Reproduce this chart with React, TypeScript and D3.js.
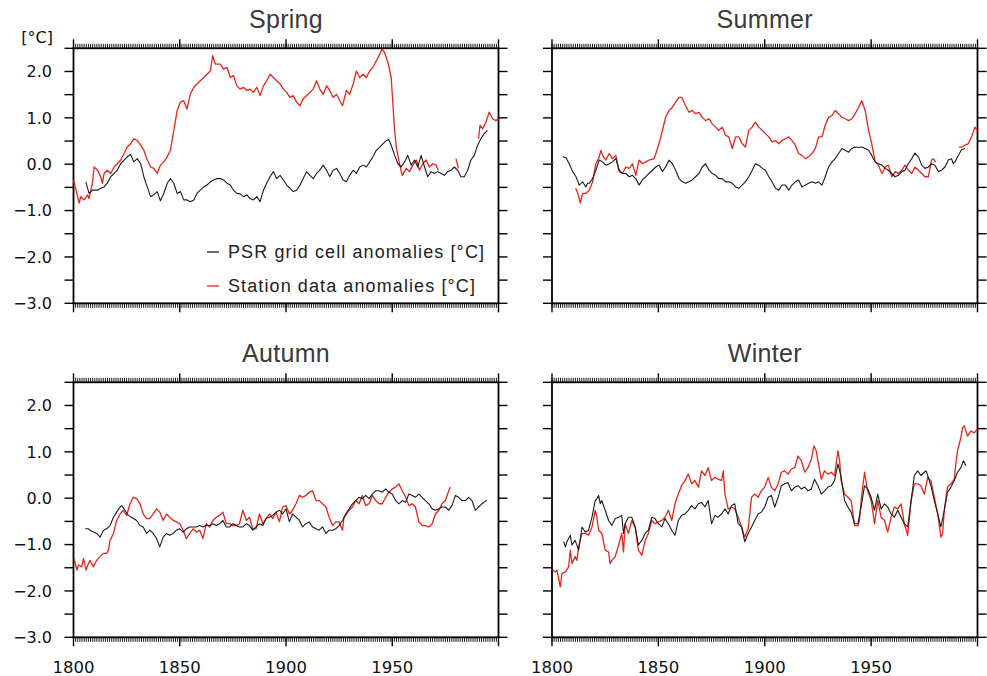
import * as d3 from "d3";

type Pt = [number, number | null];

// Spring
const springPSR: Pt[] = [
  [1805.8, -0.38], [1807.3, -0.63], [1808.9, -0.56], [1811.3, -0.56], [1812.8, -0.52], [1814.4, -0.49],
  [1815.9, -0.41], [1817.5, -0.27], [1819.1, -0.2], [1820.6, -0.13], [1822.2, 0.01], [1823.8, 0.09],
  [1825.3, 0.16], [1826.9, 0.21], [1828.4, 0.05], [1830, 0.12], [1831.6, 0.01], [1833.1, -0.27],
  [1834.7, -0.49], [1836.3, -0.7], [1837.8, -0.66], [1839.4, -0.59], [1840.9, -0.79], [1842.5, -0.63],
  [1844.1, -0.41], [1845.6, -0.31], [1847.2, -0.41], [1848.8, -0.63], [1850.3, -0.59], [1851.9, -0.77],
  [1853.4, -0.77], [1855, -0.81], [1856.6, -0.77], [1858.1, -0.63], [1859.7, -0.56], [1861.3, -0.49],
  [1862.8, -0.45], [1864.4, -0.38], [1865.9, -0.34], [1867.5, -0.31], [1869.1, -0.31], [1870.6, -0.34],
  [1872.2, -0.41], [1873.8, -0.45], [1875.3, -0.56], [1876.9, -0.63], [1878.4, -0.64], [1880, -0.7],
  [1881.6, -0.66], [1883.1, -0.74], [1884.7, -0.77], [1886.3, -0.7], [1887.8, -0.81], [1889.4, -0.56],
  [1890.9, -0.41], [1892.5, -0.27], [1894.1, -0.16], [1895.6, -0.31], [1897.2, -0.24], [1898.8, -0.34],
  [1900.3, -0.45], [1901.9, -0.52], [1903.4, -0.59], [1905, -0.56], [1906.6, -0.45], [1908.1, -0.31],
  [1909.7, -0.16], [1911.3, -0.24], [1912.8, -0.31], [1914.4, -0.2], [1915.9, -0.13], [1917.5, -0.02],
  [1919.1, -0.13], [1920.6, -0.27], [1922.2, -0.13], [1923.8, -0.09], [1925.3, -0.2], [1926.9, -0.34],
  [1928.4, -0.38], [1930, -0.24], [1931.6, -0.13], [1933.1, -0.2], [1934.7, -0.06], [1936.3, -0.02],
  [1937.8, -0.06], [1939.4, 0.05], [1940.9, 0.16], [1942.5, 0.3], [1944.1, 0.37], [1945.6, 0.44],
  [1947.2, 0.51], [1948.4, 0.53], [1949.5, 0.41], [1951.1, 0.19], [1952.7, 0.01], [1954.2, -0.06],
  [1955.8, 0.05], [1957.3, 0.19], [1958.9, -0.02], [1960.5, 0.09], [1962, -0.06], [1963.6, 0.19],
  [1965.2, -0.06], [1966.7, -0.27], [1968.3, -0.16], [1969.8, -0.2], [1971.4, -0.16], [1973, -0.2],
  [1974.5, -0.24], [1976.1, -0.16], [1977.7, -0.13], [1979.2, -0.06], [1980.8, -0.13], [1982.3, -0.27],
  [1983.9, -0.27], [1985.5, -0.13], [1987, 0.09], [1988.6, 0.19], [1990.2, 0.41], [1991.7, 0.55],
  [1993.3, 0.66], [1994.8, 0.73],
];
const springStation: Pt[] = [
  [1800, -0.34], [1802.7, -0.84], [1803.4, -0.7], [1805, -0.77], [1806.6, -0.66], [1807.3, -0.74],
  [1808.9, -0.41], [1809.7, -0.06], [1811.3, -0.13], [1812.8, -0.27], [1813.6, -0.41], [1814.4, -0.2],
  [1815.9, -0.13], [1817.5, -0.2], [1819.1, -0.06], [1820.6, 0.01], [1822.2, 0.09], [1823.8, 0.23],
  [1825.3, 0.37], [1826.9, 0.44], [1828.4, 0.55], [1830, 0.51], [1831.6, 0.41], [1833.1, 0.3],
  [1834.7, 0.09], [1836.3, -0.06], [1837.8, -0.09], [1839.4, -0.2], [1840.9, -0.02], [1842.5, 0.05],
  [1844.1, 0.16], [1845.6, 0.3], [1847.2, 0.73], [1848.8, 1.16], [1850.3, 1.34], [1851.9, 1.37],
  [1853.4, 1.19], [1855, 1.51], [1856.6, 1.66], [1858.1, 1.73], [1859.7, 1.8], [1861.3, 1.87],
  [1862.8, 1.94], [1864.4, 2.01], [1865.5, 2.34], [1866.7, 2.16], [1869.1, 2.16], [1870.6, 2.05],
  [1872.2, 2.09], [1873.8, 1.87], [1875.3, 1.91], [1876.9, 1.69], [1878.4, 1.62], [1880, 1.66],
  [1881.6, 1.59], [1883.1, 1.62], [1884.7, 1.55], [1886.3, 1.66], [1887.8, 1.48], [1889.4, 1.69],
  [1890.9, 1.8], [1892.5, 1.94], [1894.1, 1.87], [1895.6, 1.8], [1897.2, 1.73], [1898.8, 1.62],
  [1900.3, 1.55], [1901.9, 1.44], [1903.4, 1.48], [1905, 1.34], [1906.6, 1.26], [1908.1, 1.41],
  [1909.7, 1.48], [1911.3, 1.55], [1912.8, 1.62], [1914.4, 1.8], [1915.9, 1.62], [1917.5, 1.51],
  [1919.1, 1.69], [1920.6, 1.59], [1922.2, 1.44], [1923.8, 1.51], [1925.3, 1.37], [1926.6, 1.26],
  [1928.4, 1.59], [1930, 1.51], [1931.6, 1.73], [1933.1, 2.01], [1934.7, 1.87], [1936.3, 1.94],
  [1937.8, 1.87], [1939.4, 2.01], [1940.9, 2.09], [1942.5, 2.23], [1944.1, 2.37], [1945.2, 2.48],
  [1946.4, 2.41], [1948, 2.19], [1949.5, 1.87], [1950.3, 1.3], [1951.1, 0.73], [1951.9, 0.37],
  [1953.4, 0.01], [1954.7, -0.24], [1956.6, -0.09], [1958.1, -0.16], [1959.7, -0.02], [1961.3, 0.09],
  [1962.8, -0.13], [1964.4, 0.01], [1965.9, 0.09], [1967.5, -0.06], [1969.1, 0.01], [1970.6, -0.02],
  [1971.7, -0.13], [1975, null], [1980, 0.12], [1981.1, -0.09], [1985, null], [1990.6, 0.55],
  [1991.3, 0.84], [1992.5, 0.76], [1994.1, 0.91], [1995.6, 1.12], [1997.2, 0.98], [1998.8, 0.94],
  [2000, 0.98],
];

// Summer
const summerPSR: Pt[] = [
  [1805, 0.16], [1806.6, 0.14], [1808.1, 0.01], [1809.7, -0.16], [1811.3, -0.27], [1812.8, -0.45],
  [1814.4, -0.38], [1815.9, -0.49], [1816.7, -0.41], [1817.5, -0.41], [1819.1, -0.31], [1820.6, -0.13],
  [1822.2, 0.09], [1823.8, 0.05], [1825.3, -0.02], [1826.9, 0.01], [1828.4, 0.05], [1830, 0.12],
  [1831.6, -0.13], [1833.1, -0.2], [1834.7, -0.2], [1836.3, -0.27], [1837.8, -0.24], [1839.4, -0.31],
  [1840.9, -0.45], [1842.5, -0.34], [1844.1, -0.27], [1845.6, -0.2], [1847.2, -0.13], [1848.8, -0.06],
  [1850.3, -0.02], [1851.9, -0.16], [1853.4, -0.06], [1855, 0.09], [1856.6, 0.01], [1858.1, -0.13],
  [1859.7, -0.31], [1861.3, -0.38], [1862.8, -0.41], [1864.4, -0.38], [1865.9, -0.34], [1867.5, -0.27],
  [1869.1, -0.2], [1870.6, -0.06], [1872.2, 0.01], [1873.8, -0.13], [1875.3, -0.2], [1876.9, -0.24],
  [1878.4, -0.31], [1880, -0.31], [1881.6, -0.38], [1883.1, -0.38], [1884.7, -0.41], [1886.3, -0.49],
  [1887.8, -0.52], [1889.4, -0.45], [1890.9, -0.38], [1892.5, -0.27], [1894.1, -0.13], [1895.6, 0.01],
  [1897.2, -0.02], [1898.8, -0.09], [1900.3, -0.13], [1901.9, -0.27], [1903.4, -0.38], [1905, -0.52],
  [1906.6, -0.56], [1908.1, -0.45], [1909.7, -0.45], [1911.3, -0.56], [1912.8, -0.45], [1914.4, -0.38],
  [1915.9, -0.34], [1917.5, -0.49], [1919.1, -0.45], [1920.6, -0.41], [1922.2, -0.38], [1923.8, -0.41],
  [1925.3, -0.38], [1926.9, -0.45], [1928.4, -0.27], [1930, -0.06], [1931.6, 0.05], [1933.1, 0.12],
  [1934.7, 0.23], [1936.3, 0.34], [1937.8, 0.3], [1939.4, 0.26], [1940.9, 0.34], [1942.5, 0.37],
  [1944.1, 0.36], [1945.6, 0.37], [1947.2, 0.34], [1948.8, 0.3], [1950.3, 0.19], [1951.9, 0.05],
  [1953.4, 0.01], [1955.1, -0.02], [1956.6, -0.09], [1958.1, -0.13], [1959.7, -0.2], [1961.3, -0.27],
  [1962.8, -0.24], [1964.4, -0.16], [1965.9, -0.13], [1967.5, 0.01], [1969.1, 0.12], [1970.6, 0.24],
  [1972.2, 0.16], [1973.8, -0.02], [1975.3, -0.09], [1976.9, -0.06], [1978.4, 0.01], [1980, -0.02],
  [1981.6, -0.16], [1983.1, -0.13], [1984.7, -0.06], [1986.3, 0.09], [1987.8, 0.12], [1988.6, 0.01],
  [1989.4, 0.05], [1991, 0.19], [1992.5, 0.31], [1994.1, 0.34],
];
const summerStation: Pt[] = [
  [1800, 0.03], [1800.8, 0.03], [1805, null], [1811.1, -0.52], [1812.2, -0.63], [1813.3, -0.84],
  [1814.4, -0.63], [1815.9, -0.63], [1817.5, -0.56], [1819.1, -0.38], [1820.6, 0.01], [1822.2, 0.16],
  [1823, 0.3], [1823.8, 0.19], [1825.3, 0.09], [1826.9, 0.23], [1828.4, 0.12], [1830, 0.19],
  [1831.6, -0.16], [1833.1, -0.2], [1834.7, -0.06], [1836.3, -0.09], [1837.8, 0.01], [1839.4, -0.24],
  [1840.9, 0.09], [1842.5, 0.01], [1844.1, 0.05], [1845.6, 0.09], [1848, 0.12], [1848.8, 0.23],
  [1850.3, 0.44], [1851.9, 0.73], [1853.4, 1.01], [1855, 1.16], [1856.6, 1.23], [1858.1, 1.34],
  [1859.7, 1.44], [1861, 1.44], [1862.8, 1.26], [1864.4, 1.12], [1865.9, 1.16], [1867.5, 1.09],
  [1869.1, 1.12], [1870.6, 1.01], [1872.2, 0.94], [1873.8, 0.98], [1875.3, 0.87], [1876.9, 0.8],
  [1878.4, 0.73], [1880, 0.8], [1881.6, 0.62], [1883.1, 0.59], [1884.7, 0.34], [1886.3, 0.59],
  [1887.8, 0.59], [1889.4, 0.44], [1890.9, 0.37], [1892.5, 0.73], [1894.1, 0.8], [1895.6, 0.91],
  [1897.2, 0.8], [1898.8, 0.73], [1900.3, 0.66], [1901.9, 0.59], [1903.4, 0.48], [1905, 0.51],
  [1906.6, 0.44], [1908.1, 0.51], [1909.7, 0.55], [1911.3, 0.59], [1912.8, 0.51], [1914.4, 0.41],
  [1915.9, 0.23], [1917.5, 0.19], [1919.1, 0.12], [1920.6, 0.16], [1922.2, 0.23], [1923.8, 0.34],
  [1925.3, 0.59], [1926.9, 0.59], [1928.4, 0.84], [1930, 1.01], [1931.6, 1.05], [1933.1, 1.16],
  [1934.7, 1.09], [1936.3, 1.01], [1937.8, 0.98], [1939.4, 0.94], [1940.9, 0.98], [1942.5, 1.09],
  [1944.1, 1.23], [1945.6, 1.37], [1947.2, 1.16], [1948.8, 0.73], [1950.3, 0.44], [1951.9, 0.05],
  [1953.4, -0.02], [1955.1, -0.2], [1956.6, -0.06], [1958.1, -0.02], [1959.7, -0.27], [1961.3, -0.16],
  [1962.8, -0.2], [1964.4, -0.13], [1965.9, -0.02], [1967.5, -0.13], [1969.1, -0.2], [1970.6, -0.06],
  [1972.2, -0.13], [1973.8, -0.2], [1975.3, -0.27], [1976.9, -0.27], [1978.4, 0.09], [1979.2, 0.12],
  [1980.3, 0.05], [1985, null], [1991.3, 0.37], [1992.5, 0.37], [1994.1, 0.41], [1995.6, 0.44],
  [1997.2, 0.59], [1998.8, 0.8], [2000, 0.72],
];

// Autumn
const autumnPSR: Pt[] = [
  [1805.5, -0.66], [1807, -0.66], [1807.8, -0.69], [1809.4, -0.73], [1810.9, -0.76], [1812.5, -0.84],
  [1814.1, -0.69], [1815.6, -0.66], [1817.2, -0.59], [1818.8, -0.41], [1820.3, -0.3], [1821.9, -0.19],
  [1822.7, -0.16], [1824.2, -0.26], [1825.8, -0.37], [1827.3, -0.41], [1829.7, -0.48], [1831.3, -0.59],
  [1832.8, -0.62], [1834.4, -0.76], [1835.9, -0.69], [1837.5, -0.76], [1839.1, -0.87], [1840.6, -1.05],
  [1842.2, -0.84], [1843.8, -0.76], [1845.3, -0.8], [1846.9, -0.76], [1848.4, -0.69], [1850, -0.66],
  [1851.6, -0.73], [1853.1, -0.66], [1854.7, -0.62], [1856.3, -0.62], [1857.8, -0.62], [1859.4, -0.59],
  [1860.9, -0.62], [1862.5, -0.59], [1864.1, -0.59], [1865.6, -0.55], [1867.2, -0.59], [1868.8, -0.55],
  [1870.3, -0.48], [1871.9, -0.62], [1873.4, -0.62], [1875, -0.55], [1876.6, -0.59], [1878.1, -0.62],
  [1879.7, -0.62], [1881.3, -0.55], [1882.8, -0.59], [1884.4, -0.69], [1885.9, -0.62], [1887.5, -0.55],
  [1889.1, -0.59], [1890.6, -0.44], [1892.2, -0.41], [1893.8, -0.37], [1895.3, -0.3], [1896.9, -0.26],
  [1898.4, -0.34], [1900, -0.23], [1901.6, -0.51], [1903.1, -0.34], [1904.7, -0.41], [1906.3, -0.48],
  [1907.8, -0.62], [1909.4, -0.55], [1910.9, -0.51], [1912.5, -0.62], [1914.1, -0.66], [1915.6, -0.69],
  [1917.2, -0.62], [1918.8, -0.76], [1920.3, -0.69], [1921.9, -0.69], [1923.4, -0.66], [1925, -0.59],
  [1926.6, -0.48], [1928.1, -0.34], [1929.7, -0.23], [1931.3, -0.12], [1932.8, -0.05], [1934.4, 0.02],
  [1935.9, -0.01], [1937.5, 0.06], [1939.1, -0.01], [1940.6, 0.09], [1942.2, 0.16], [1943.8, 0.16],
  [1945.3, 0.13], [1946.9, 0.2], [1948.4, 0.13], [1950, 0.09], [1951.6, -0.05], [1953.1, -0.12],
  [1954.7, -0.05], [1956.3, -0.09], [1957.8, 0.09], [1959.4, 0.06], [1960.9, 0.02], [1962.5, 0.09],
  [1964.1, 0.02], [1965.6, -0.05], [1967.2, -0.12], [1968.8, -0.23], [1970.3, -0.26], [1971.9, -0.23],
  [1973.4, -0.19], [1975, -0.19], [1976.6, -0.26], [1978.1, -0.16], [1979.7, 0.06], [1981.3, 0.02],
  [1982.8, -0.05], [1984.4, -0.05], [1985.9, 0.02], [1987.5, -0.05], [1989.1, -0.26], [1990.6, -0.19],
  [1992.2, -0.12], [1994.5, -0.04],
];
const autumnStation: Pt[] = [
  [1800.3, -1.3], [1801.6, -1.55], [1802.3, -1.44], [1803.9, -1.48], [1804.7, -1.3], [1805.9, -1.55],
  [1807, -1.41], [1807.8, -1.34], [1809.4, -1.48], [1810.9, -1.34], [1812.5, -1.26], [1814.1, -1.19],
  [1815.6, -1.19], [1816.4, -1.12], [1817.2, -0.91], [1818.8, -0.76], [1820.3, -0.48], [1821.9, -0.34],
  [1823.4, -0.26], [1825, -0.37], [1826.6, -0.12], [1828.1, 0.02], [1829.7, -0.01], [1831.3, -0.12],
  [1832.8, -0.34], [1834.4, -0.44], [1835.9, -0.44], [1837.5, -0.34], [1839.1, -0.23], [1840.6, -0.3],
  [1842.2, -0.48], [1843.8, -0.34], [1845.3, -0.41], [1846.9, -0.48], [1848.4, -0.51], [1850, -0.55],
  [1851.6, -0.69], [1853.1, -0.87], [1854.7, -0.76], [1856.3, -0.66], [1857.8, -0.73], [1859.4, -0.69],
  [1860.9, -0.87], [1862.5, -0.55], [1864.1, -0.62], [1865.6, -0.48], [1867.2, -0.41], [1868.8, -0.37],
  [1870.3, -0.3], [1871.9, -0.55], [1873.4, -0.55], [1875, -0.59], [1876.6, -0.59], [1878.1, -0.55],
  [1879.7, -0.26], [1881.3, -0.48], [1882.8, -0.41], [1884.4, -0.66], [1885.9, -0.66], [1887.5, -0.34],
  [1889.1, -0.55], [1890.6, -0.44], [1892.2, -0.34], [1893.8, -0.44], [1895.3, -0.3], [1896.9, -0.51],
  [1898.4, -0.19], [1900, -0.16], [1901.6, -0.34], [1903.1, -0.26], [1904.7, -0.12], [1906.3, 0.06],
  [1907.8, 0.02], [1909.4, 0.06], [1910.9, 0.13], [1912.5, 0.16], [1914.1, -0.05], [1915.6, -0.05],
  [1917.2, -0.12], [1918.8, -0.19], [1920.3, -0.41], [1921.9, -0.59], [1923.4, -0.51], [1925, -0.51],
  [1926.6, -0.69], [1927.3, -0.41], [1928.1, -0.37], [1929.7, -0.26], [1931.3, -0.19], [1932.8, -0.05],
  [1934.4, -0.12], [1935.9, 0.06], [1937.5, -0.16], [1939.1, -0.12], [1940.6, 0.06], [1942.2, -0.05],
  [1943.8, -0.12], [1945.3, -0.12], [1946.9, 0.02], [1948.4, 0.13], [1950, 0.2], [1951.6, 0.24],
  [1953.1, 0.31], [1954.7, 0.16], [1956.3, 0.02], [1957.8, -0.16], [1959.4, -0.12], [1960.9, -0.19],
  [1962.5, -0.51], [1964.1, -0.59], [1965.6, -0.59], [1967.2, -0.62], [1968.8, -0.55], [1970.3, -0.34],
  [1971.9, -0.26], [1973.4, -0.12], [1975, -0.05], [1976.6, 0.16], [1977.3, 0.24],
];

// Winter
const winterPSR: Pt[] = [
  [1805.5, -0.94], [1806.3, -1.05], [1807, -0.94], [1808.6, -0.8], [1809.4, -1.01], [1810.9, -0.91],
  [1812.5, -1.12], [1814.1, -0.62], [1815.6, -0.73], [1817.2, -0.69], [1818.8, -0.41], [1820.3, -0.05],
  [1821.1, -0.01], [1821.9, 0.06], [1822.7, -0.12], [1823.4, -0.05], [1825, -0.26], [1826.6, -0.48],
  [1828.1, -0.59], [1829.7, -0.44], [1831.3, -0.41], [1832.8, -0.37], [1833.6, -0.76], [1834.4, -0.55],
  [1835.9, -0.41], [1837.5, -0.41], [1839.1, -0.62], [1840.6, -1.01], [1842.2, -0.91], [1843.8, -0.76],
  [1845.3, -0.69], [1846.9, -0.41], [1848.4, -0.44], [1850, -0.55], [1851.6, -0.62], [1853.1, -0.44],
  [1854.7, -0.55], [1856.3, -0.69], [1857.8, -0.8], [1859.4, -0.48], [1860.9, -0.37], [1862.5, -0.34],
  [1864.1, -0.26], [1865.6, -0.16], [1867.2, -0.23], [1868.8, -0.12], [1870.3, -0.09], [1871.9, -0.19],
  [1873.4, -0.05], [1875, -0.55], [1876.6, -0.37], [1878.1, -0.41], [1879.7, -0.34], [1881.3, -0.23],
  [1882.8, -0.34], [1884.4, -0.16], [1885.9, -0.12], [1887.5, -0.55], [1889.1, -0.62], [1890.6, -0.94],
  [1892.2, -0.76], [1893.8, -0.62], [1895.3, -0.48], [1896.9, -0.34], [1898.4, -0.3], [1900, -0.19],
  [1901.6, 0.02], [1903.1, 0.06], [1904.7, -0.19], [1906.3, 0.02], [1907.8, 0.27], [1909.4, 0.31],
  [1910.9, 0.34], [1912.5, 0.16], [1914.1, 0.24], [1915.6, 0.27], [1917.2, 0.2], [1918.8, 0.24],
  [1920.3, 0.16], [1921.9, 0.2], [1923.4, 0.41], [1925, 0.27], [1926.6, 0.09], [1928.1, 0.16],
  [1929.7, 0.24], [1931.3, 0.27], [1932.8, 0.38], [1934.4, 0.74], [1935.2, 0.59], [1935.9, 0.45],
  [1937.5, -0.05], [1939.1, -0.19], [1940.6, -0.3], [1942.2, -0.55], [1943.8, -0.55], [1945.3, -0.19],
  [1946.9, 0.27], [1948.4, 0.2], [1950, 0.02], [1951.6, -0.26], [1953.1, 0.09], [1954.7, -0.23],
  [1956.3, -0.12], [1957.8, -0.19], [1959.4, -0.34], [1960.9, -0.41], [1962.5, -0.26], [1964.1, -0.41],
  [1965.6, -0.55], [1967.2, -0.62], [1968.8, -0.05], [1970.3, 0.49], [1971.9, 0.59], [1973.4, 0.49],
  [1975, 0.56], [1975.8, 0.59], [1976.6, 0.49], [1978.1, 0.27], [1979.7, -0.05], [1981.3, -0.34],
  [1982.8, -0.62], [1984.4, -0.26], [1985.9, 0.13], [1987.5, 0.24], [1989.1, 0.38], [1990.6, 0.56],
  [1992.2, 0.66], [1993.4, 0.81], [1994.5, 0.7],
];
const winterStation: Pt[] = [
  [1800.3, -1.55], [1801.6, -1.59], [1802.3, -1.55], [1803.1, -1.73], [1803.9, -1.91], [1804.7, -1.62],
  [1806.3, -1.59], [1807.8, -1.48], [1808.6, -1.12], [1809.4, -1.41], [1810.9, -1.26], [1811.7, -1.34],
  [1812.5, -1.05], [1814.1, -0.76], [1815.6, -0.76], [1817.2, -0.8], [1818.8, -0.62], [1820.3, -0.26],
  [1821.1, -0.41], [1821.9, -0.69], [1823.4, -0.76], [1825, -1.12], [1826.6, -1.16], [1827.3, -1.41],
  [1828.1, -1.34], [1829.7, -1.26], [1831.3, -1.01], [1832.8, -0.76], [1833.6, -1.16], [1834.4, -0.55],
  [1835.9, -0.76], [1837.5, -0.48], [1839.1, -0.62], [1840.6, -1.12], [1842.2, -1.23], [1843.8, -0.91],
  [1845.3, -0.76], [1846.9, -0.48], [1848.4, -0.55], [1850, -0.51], [1851.6, -0.48], [1853.1, -0.41],
  [1854.7, -0.26], [1856.3, -0.48], [1857.8, -0.12], [1859.4, 0.09], [1860.9, 0.27], [1862.5, 0.38],
  [1864.1, 0.52], [1865.6, 0.31], [1867.2, 0.38], [1868.8, 0.24], [1870.3, 0.59], [1871.9, 0.49],
  [1873.4, 0.66], [1875, 0.38], [1876.6, 0.45], [1878.1, 0.41], [1879.7, 0.38], [1880.5, 0.59],
  [1881.3, 0.09], [1882.8, -0.23], [1884.4, -0.19], [1885.9, -0.23], [1887.5, -0.41], [1889.1, -0.62],
  [1890.6, -0.84], [1892.2, -0.66], [1893.8, 0.02], [1895.3, 0.09], [1896.9, 0.02], [1898.4, 0.16],
  [1900, 0.24], [1901.6, 0.45], [1903.1, 0.24], [1904.7, 0.16], [1906.3, 0.31], [1907.8, 0.56],
  [1909.4, 0.59], [1910.9, 0.52], [1912.5, 0.63], [1914.1, 0.66], [1915.6, 0.91], [1917.2, 0.81],
  [1918.8, 0.56], [1920.3, 0.66], [1921.9, 0.84], [1923.1, 1.13], [1924.2, 1.02], [1925, 0.81],
  [1926.6, 0.41], [1928.1, 0.59], [1929.7, 0.52], [1931.3, 0.56], [1932.8, 0.49], [1934.4, 1.02],
  [1935.2, 0.81], [1935.9, 0.38], [1937.5, 0.09], [1939.1, 0.02], [1940.6, -0.05], [1942.2, -0.59],
  [1943.8, -0.59], [1944.5, -0.48], [1945.3, -0.05], [1946.9, 0.56], [1948.4, 0.16], [1950, -0.05],
  [1951.6, -0.55], [1953.1, -0.05], [1954.7, -0.41], [1956.3, -0.48], [1957.8, -0.73], [1959.4, -0.41],
  [1960.9, -0.19], [1962.5, -0.23], [1964.1, -0.12], [1965.6, -0.55], [1967.2, -0.8], [1968.8, -0.05],
  [1970.3, 0.31], [1971.9, 0.31], [1973.4, 0.27], [1975, 0.09], [1976.6, 0.45], [1978.1, 0.38],
  [1979.7, 0.02], [1981.3, -0.34], [1982.8, -0.84], [1983.6, -0.76], [1984.4, -0.26], [1985.9, 0.24],
  [1987.5, 0.31], [1989.1, 0.41], [1989.8, 0.74], [1990.6, 1.02], [1992.2, 1.31], [1993, 1.52],
  [1993.8, 1.56], [1995.3, 1.34], [1996.9, 1.45], [1998.4, 1.41], [2000, 1.49],
];

const seasons = ["Spring", "Summer", "Autumn", "Winter"];
const xTickLabels = [1800, 1850, 1900, 1950];
const xMajorTicks = [1800, 1850, 1900, 1950, 2000];
const yTickLabels = [2, 1, 0, -1, -2, -3];
const legendLabels = ["PSR grid cell anomalies [\u00B0C]", "Station data anomalies [\u00B0C]"];

const W = 987;
const H = 676;
const colRange: [number, number][] = [[73.5, 498.5], [552, 977.5]];
const rowRange: [number, number][] = [[303.3, 48.3], [637.3, 382.3]];
const RED = "#e3261c";
const BLACK = "#1a1a1a";
const tickFont = "'DejaVu Sans', sans-serif";
const labelFont = "'Liberation Sans', Arial, sans-serif";

const fmt = (v: number) => (v < 0 ? "\u2212" + Math.abs(v).toFixed(1) : v.toFixed(1));

function Panel({ idx, psr, stn }: { idx: number; psr: Pt[]; stn: Pt[] }) {
  const col = idx % 2;
  const row = Math.floor(idx / 2);
  const x = d3.scaleLinear().domain([1800, 2000]).range(colRange[col]);
  const y = d3.scaleLinear().domain([-3, 2.5]).range(rowRange[row]);
  const [x0, x1] = x.range();
  const [yb, yt] = y.range();

  const line = d3
    .line<Pt>()
    .defined((d) => d[1] !== null)
    .x((d) => x(d[0]))
    .y((d) => y(d[1] as number));

  const minorX = d3.range(1800, 2001, 1);
  const yTicks = d3.range(-3, 2.51, 0.5);

  return (
    <g>
      <text
        x={(x0 + x1) / 2}
        y={yt - 20}
        textAnchor="middle"
        fontFamily={labelFont}
        fontSize={25}
        fill="#3a3a3a"
        letterSpacing={0.3}
      >
        {seasons[idx]}
      </text>

      {/* year ticks top/bottom */}
      {minorX.map((yr) => (
        <g key={"mx" + yr} stroke="#000" strokeWidth={0.9}>
          <line x1={x(yr)} x2={x(yr)} y1={yt} y2={yt - 4.5} />
          <line x1={x(yr)} x2={x(yr)} y1={yb} y2={yb + 4.5} />
        </g>
      ))}
      {xMajorTicks.map((yr) => (
        <g key={"Mx" + yr} stroke="#000" strokeWidth={1.4}>
          <line x1={x(yr)} x2={x(yr)} y1={yt} y2={yt - 9} />
          <line x1={x(yr)} x2={x(yr)} y1={yb} y2={yb + 9} />
        </g>
      ))}
      {yTicks.map((v) => (
        <g key={"yt" + v} stroke="#000" strokeWidth={1.4}>
          <line x1={x0 - 9} x2={x0} y1={y(v)} y2={y(v)} />
          <line x1={x1} x2={x1 + 9} y1={y(v)} y2={y(v)} />
        </g>
      ))}

      {col === 0 &&
        yTickLabels.map((v) => (
          <text
            key={"yl" + v}
            x={x0 - 21.5}
            y={y(v)}
            dy="0.36em"
            textAnchor="end"
            fontFamily={tickFont}
            fontSize={16}
            fill="#111"
          >
            {fmt(v)}
          </text>
        ))}
      {row === 1 &&
        xTickLabels.map((yr) => (
          <text
            key={"xl" + yr}
            x={x(yr)}
            y={yb + 35.4}
            textAnchor="middle"
            fontFamily={tickFont}
            fontSize={16.5}
            fill="#111"
          >
            {yr}
          </text>
        ))}

      <rect x={x0} y={yt} width={x1 - x0} height={yb - yt} fill="none" stroke="#000" strokeWidth={1.8} />

      <path d={line(stn) || ""} fill="none" stroke={RED} strokeWidth={1.3} strokeLinejoin="round" />
      <path d={line(psr) || ""} fill="none" stroke={BLACK} strokeWidth={1.1} strokeLinejoin="round" />
    </g>
  );
}

export default function App() {
  const series: [Pt[], Pt[]][] = [
    [springPSR, springStation],
    [summerPSR, summerStation],
    [autumnPSR, autumnStation],
    [winterPSR, winterStation],
  ];
  const legendColors = [BLACK, RED];
  const legendY = [252, 286];

  return (
    <svg
      width={W}
      height={H}
      style={{ position: "absolute", left: 0, top: 0, background: "#fff" }}
    >
      <rect width={W} height={H} fill="#fff" />
      {series.map(([p, s], i) => (
        <Panel key={i} idx={i} psr={p} stn={s} />
      ))}
      <text x={53} y={43} textAnchor="end" fontFamily={tickFont} fontSize={16} fill="#111">
        [°C]
      </text>
      {legendLabels.map((lab, i) => (
        <g key={lab}>
          <line x1={207} x2={219} y1={legendY[i]} y2={legendY[i]} stroke={legendColors[i]} strokeWidth={1.3} />
          <text
            x={228}
            y={legendY[i]}
            dy="0.36em"
            fontFamily={labelFont}
            fontSize={18}
            letterSpacing={1.1}
            fill="#222"
          >
            {lab}
          </text>
        </g>
      ))}
    </svg>
  );
}
